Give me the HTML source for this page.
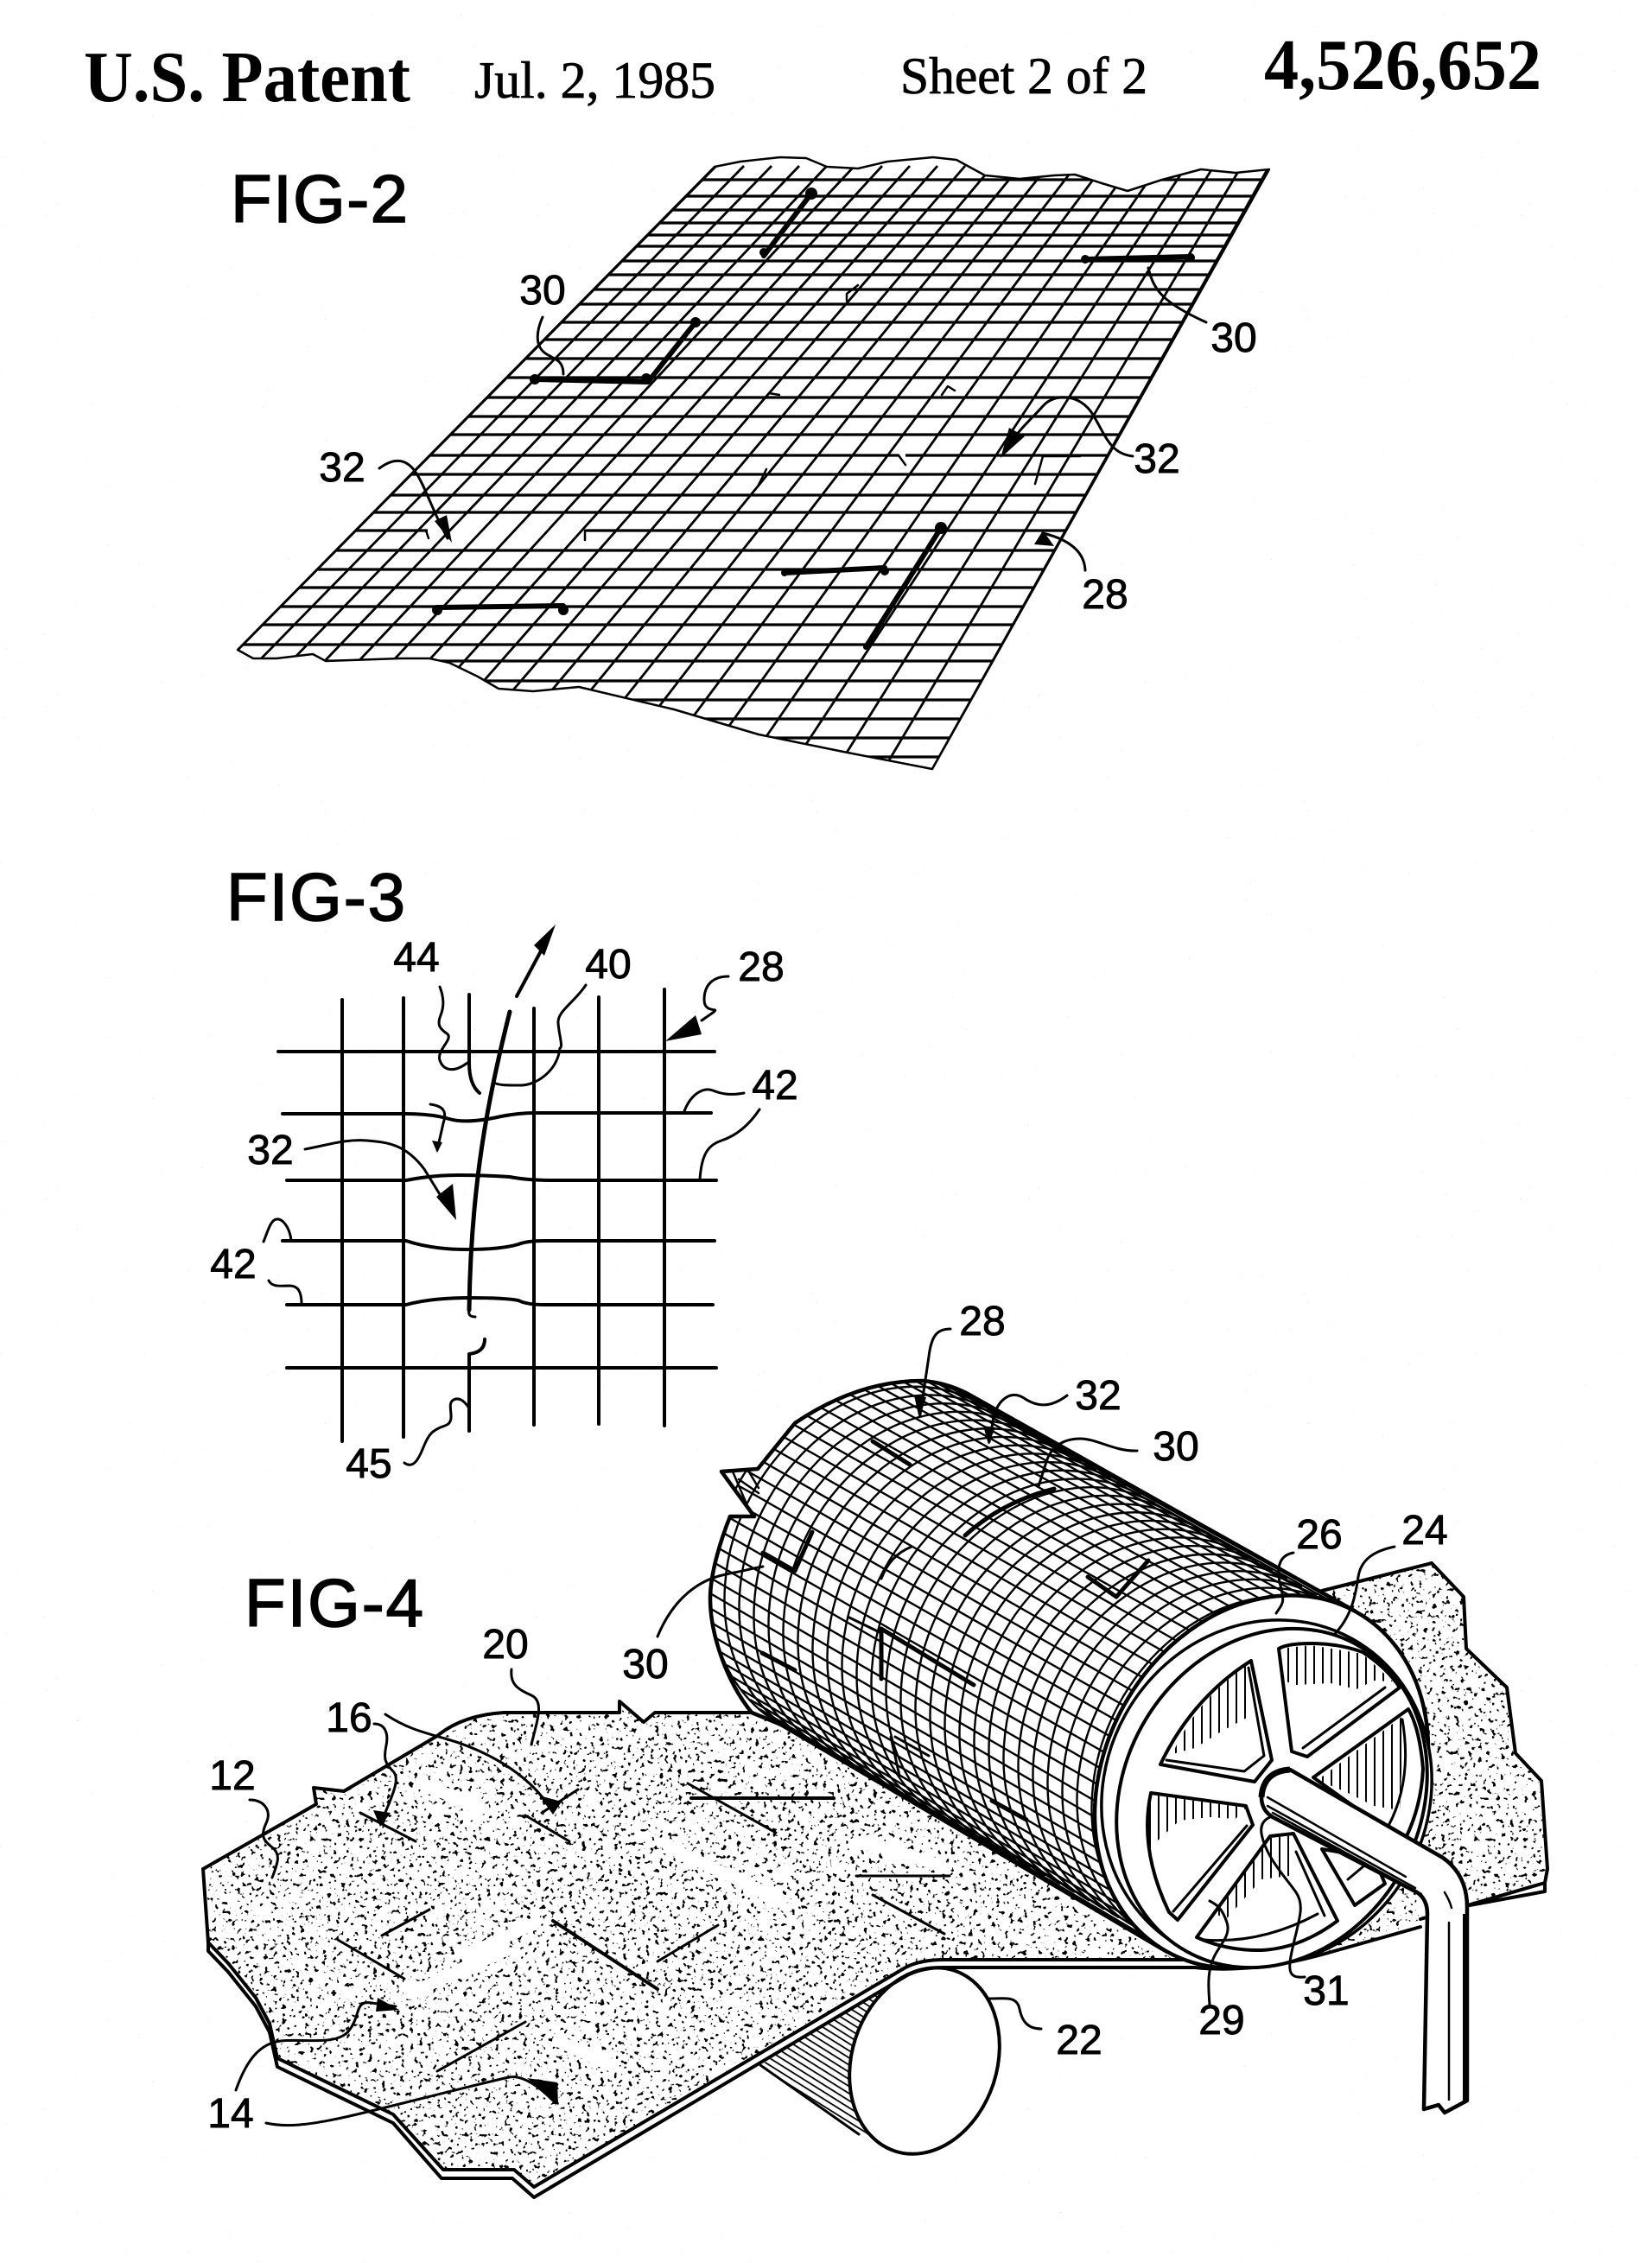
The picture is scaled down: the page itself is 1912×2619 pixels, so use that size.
<!DOCTYPE html>
<html><head><meta charset="utf-8"><title>U.S. Patent 4,526,652 Sheet 2</title>
<style>
html,body{margin:0;padding:0;background:#fff}
svg{display:block}
.n{font:48px "Liberation Sans",sans-serif;text-anchor:middle;fill:#000;stroke:#000;stroke-width:.9}
.f{font:78px "Liberation Sans",sans-serif;fill:#000;stroke:#000;stroke-width:1.6}
.h{font-family:"Liberation Serif",serif;fill:#000}
.l{fill:none;stroke:#000;stroke-width:3;stroke-linecap:round;stroke-linejoin:round}
.t{fill:none;stroke:#000;stroke-width:2.5;stroke-linecap:round;stroke-linejoin:round}
.s{fill:none;stroke:#000;stroke-width:6;stroke-linecap:round;stroke-linejoin:round}
.o{fill:none;stroke:#000;stroke-width:4;stroke-linecap:round;stroke-linejoin:round}
</style></head><body>
<svg xmlns="http://www.w3.org/2000/svg" width="1912" height="2619" viewBox="0 0 1912 2619">
<defs>
<filter id="stip" x="0" y="0" width="1" height="1" color-interpolation-filters="sRGB"><feTurbulence type="fractalNoise" baseFrequency="0.19" numOctaves="2" seed="7"/><feColorMatrix values="0 0 0 0 0 0 0 0 0 0 0 0 0 0 0 0 0 0 18 -11.4"/></filter>
<filter id="bg" x="0" y="0" width="1" height="1" color-interpolation-filters="sRGB"><feTurbulence type="fractalNoise" baseFrequency="0.45" numOctaves="1" seed="3"/><feColorMatrix values="0 0 0 0 .45 0 0 0 0 .45 0 0 0 0 .45 0 0 0 30 -24.5"/></filter>
<pattern id="hv" width="10" height="40" patternUnits="userSpaceOnUse"><rect width="2" height="40" fill="#000"/></pattern>
<pattern id="hd" width="7" height="7" patternUnits="userSpaceOnUse" patternTransform="rotate(32)"><rect width="7" height="1.8" fill="#000"/></pattern>
<clipPath id="g2"><path d="M827 193 857 187 903 182 933 183 957 193 993 195 1027 187 1080 182 1107 185 1140 203 1180 207 1220 203 1244 202 1275 212 1305 221 1345 208 1390 196 1430 200 1469 196 1079 890 976 870 878 850 780 821 670 795 617 800 577 797 553 783 520 767 497 762 463 762 377 765 362 757 320 762 293 762 275 752Z"/></clipPath>
<clipPath id="sheet"><path id="sheetp" d="M235 2163 366 2088 363 2069 398 2073 506 2009Q535 1985 583 1982L717 1982 717 1969 745 1993 758 1982 876 1982 1530 1841 1657 1809 1694 1848 1697 1908 1744 1953 1754 2029 1784 2061 1791 2163 1788 2179 1644 2221Q1560 2262 1517 2259 1450 2275 1383 2269L1093 2268Q1065 2268 1048 2277L618 2531 595 2511 513 2511 455 2447 321 2382 312 2342 296 2312 264 2272 241 2248Z"/></clipPath>
<clipPath id="drum"><path id="drump" d="M1569 1865 1120 1613Q1095 1600 1067 1598C1010 1598 960 1620 920 1647L877 1700 835 1703 873 1755 845 1755C835 1780 822 1820 822 1850 822 1890 840 1945 870 1982L904 1996 1351 2259Z"/></clipPath>
<path id="arc" d="M1116 1614A178 218 29 0 0 822 1826A178 218 29 0 0 904 1996" fill="none" stroke="#000" stroke-width="2.4"/>
</defs>
<rect width="1912" height="2619" fill="#fff"/>
<rect width="1912" height="2619" filter="url(#bg)"/>

<!-- header -->
<text class="h" x="97" y="117" font-size="84" font-weight="bold" textLength="378" lengthAdjust="spacingAndGlyphs">U.S. Patent</text>
<text class="h" x="549" y="113" font-size="60" stroke="#000" stroke-width=".8" textLength="279" lengthAdjust="spacingAndGlyphs">Jul. 2, 1985</text>
<text class="h" x="1042" y="108" font-size="60" stroke="#000" stroke-width=".8" textLength="286" lengthAdjust="spacingAndGlyphs">Sheet 2 of 2</text>
<text class="h" x="1463" y="103" font-size="84" font-weight="bold" textLength="321" lengthAdjust="spacingAndGlyphs">4,526,652</text>

<!-- FIG 2 -->
<text class="f" x="267" y="257" textLength="205">FIG-2</text>
<g clip-path="url(#g2)">
<path fill="none" stroke="#000" stroke-width="3.2" d="M130 208H1480M130 227H1480M130 243H1480M130 258H1480M130 272H1480M130 285H1480M130 302H1480M130 318H1480M130 335H1480M130 352H1480M130 373H1480M130 393H1480M130 415H1480M130 437H1480M130 460H1480M130 482H1480M130 503H1480M130 527H1040M1048 527H1480M130 549H1480M130 573H1480M130 593H1480M130 614H495M677 614H1480M130 637H1480M130 659H1480M130 680H1480M130 702H1480M130 723H1480M130 746H1480M130 765H1480M130 788H1480M130 810H1480M130 832H1480M130 854H1480M130 876H1480"/>
<path fill="none" stroke="#000" stroke-width="2.8" d="M829 192 139 890M861 192 177 890M893 192 216 890M925 192 256 890M957 192 297 890M989 192 338 890M1021 192 381 890M1053 192 425 890M1085 192 470 890M1117 192 515 890M1149 192 562 890M1181 192 609 890M1213 192 658 890M1245 192 707 890M1277 192 757 890M1309 192 808 890M1341 192 861 890M1373 192 914 890M1405 192 968 890M1437 192 1023 890M1469 192 1079 890"/>
</g>
<path class="t" d="M827 193 857 187 903 182 933 183 957 193 993 195 1027 187 1080 182 1107 185 1140 203 1180 207 1220 203 1244 202 1275 212 1305 221 1345 208 1390 196 1430 200 1469 196 1079 890 976 870 878 850 780 821 670 795 617 800 577 797 553 783 520 767 497 762 463 762 377 765 362 757 320 762 293 762 275 752 827 193"/>
<path class="t" d="M980 348V340L993 330M890 455 902 457M1090 457 1097 447 1105 452M1040 527 1048 538M877 563 887 543M493 614 496 623M677 614V625M1207 528H1250M1207 528 1198 560"/>
<path class="s" d="M939 224 884 296M1256 300 1378 297M805 373 750 442 619 439M506 703 652 701M908 663 1024 657M1089 611 1002 749"/>
<g fill="#000"><circle cx="939" cy="224" r="7"/><circle cx="884" cy="292" r="5"/><circle cx="1256" cy="300" r="5"/><circle cx="1378" cy="298" r="5"/><circle cx="805" cy="373" r="6"/><circle cx="748" cy="438" r="6"/><circle cx="619" cy="439" r="6"/><circle cx="506" cy="706" r="6"/><circle cx="652" cy="706" r="6"/><circle cx="908" cy="663" r="4"/><circle cx="1024" cy="661" r="5"/><circle cx="1089" cy="611" r="7"/></g>
<path class="l" d="M628 367C620 385 620 400 630 408S652 415 652 433M1329 310C1335 335 1345 350 1396 373M439 542C455 530 469 530 480 545S500 590 518 623M1311 528C1285 525 1280 505 1265 480S1220 455 1207 470 1175 500 1165 522M1256 660C1255 640 1240 625 1207 617"/>
<path d="M503 603 523 628 517 596ZM1158 530 1168 495 1186 505ZM1197 630 1207 614 1220 632Z" fill="#000"/>
<text class="n" x="628" y="352">30</text><text class="n" x="1428" y="407">30</text><text class="n" x="396" y="557">32</text><text class="n" x="1339" y="547">32</text><text class="n" x="1279" y="704">28</text>

<!-- FIG 3 -->
<text class="f" x="262" y="1065" textLength="207">FIG-3</text>
<path class="o" d="M396 1157V1668M467 1155V1663M618 1167V1649M693 1154V1648M769 1145V1650M543 1151V1230Q543 1255 555 1265M561 1550Q561 1565 543 1567V1656"/>
<path class="o" d="M322 1217H827M327 1289H470Q500 1289 520 1295T580 1292Q600 1288 620 1288H823M332 1366H470Q500 1360 530 1360T590 1362Q610 1366 640 1366H829M327 1436H470Q500 1446 540 1446T600 1440Q610 1436 630 1436H827M332 1510H470Q500 1502 543 1502T600 1505Q610 1510 630 1510H825M332 1583H829"/>
<path d="M590 1171C565 1270 545 1370 543 1516" fill="none" stroke="#000" stroke-width="5" stroke-linecap="round"/>
<path class="l" d="M543 1516Q541 1524 550 1524"/>
<path class="o" d="M598 1153 636 1082"/>
<path d="M643 1070 618 1094 630 1106Z" fill="#000"/>
<path class="l" d="M509 1142C514 1155 514 1165 510 1175S508 1190 517 1196 505 1215 509 1227 525 1242 541 1230M678 1140C665 1160 645 1170 646 1184S652 1212 648 1213C645 1240 620 1256 603 1256S580 1256 574 1254M843 1130C825 1130 815 1140 815 1157S835 1165 825 1172 812 1181 812 1181M861 1265C845 1268 835 1266 825 1262S800 1265 792 1286M879 1284C865 1305 850 1315 835 1320S812 1335 810 1365M353 1330C380 1325 400 1318 425 1320S470 1325 491 1353L520 1400M498 1278C512 1280 518 1285 513 1300L506 1331M305 1437C310 1425 313 1412 320 1411S335 1420 337 1435M311 1482C315 1490 325 1488 335 1488S349 1495 349 1509M468 1693C478 1700 484 1690 490 1675S500 1655 515 1650 515 1625 525 1620 543 1630 543 1630"/>
<path d="M770 1205 805 1175 812 1197ZM505 1385 524 1370 528 1412ZM500 1320 512 1322 506 1334Z" fill="#000"/>
<text class="n" x="482" y="1124">44</text><text class="n" x="704" y="1132">40</text><text class="n" x="881" y="1135">28</text><text class="n" x="897" y="1272">42</text><text class="n" x="313" y="1347">32</text><text class="n" x="270" y="1479">42</text><text class="n" x="427" y="1710">45</text>

<!-- FIG 4 -->
<text class="f" x="283" y="1882" textLength="207">FIG-4</text>

<!-- roller -->
<path d="M880 2390 1030 2296 1080 2385 1010 2480 994 2470Z" fill="url(#hd)" stroke="none"/>
<path class="l" d="M880 2390 994 2470"/>
<ellipse cx="1070" cy="2385" rx="84" ry="110" transform="rotate(18 1070 2385)" fill="#fff" stroke="#000" stroke-width="4"/>

<!-- sheet -->
<use href="#sheetp" fill="#fff"/>
<g clip-path="url(#sheet)"><rect x="200" y="1780" width="1620" height="780" filter="url(#stip)"/>
<path fill="none" stroke="#fff" stroke-width="14" stroke-linecap="round" d="M540 2263 620 2225M487 2064 557 2093M774 2138 902 2198M646 2362 710 2392M474 2307 583 2258M1000 2130 1090 2160"/>
</g>
<path class="o" d="M235 2163 366 2088 363 2069 398 2073 506 2009Q535 1985 583 1982L717 1982 717 1969 745 1993 758 1982 876 1982M1530 1841 1657 1809 1694 1848 1697 1908 1744 1953 1754 2029 1784 2061 1791 2163 1788 2179 1644 2221M235 2163 241 2248 264 2272 296 2312 312 2342 321 2382 455 2447 513 2511 595 2511 618 2531 1048 2277Q1065 2268 1093 2268H1383Q1450 2275 1517 2259"/>
<path class="o" d="M241 2248V2258L264 2282 296 2322 312 2352 321 2392 455 2457 511 2521 593 2521 618 2543 1050 2286Q1068 2277 1093 2277H1383Q1450 2284 1530 2262L1644 2230M1788 2179V2189L1701 2205"/>
<path class="l" d="M608 2101 659 2131M669 2071 627 2098M796 2064 898 2121M417 2098 481 2131M497 2210 442 2240M391 2245 468 2290M831 2228 761 2270M608 2340 506 2397M991 2171 1099 2171M1010 2193 1093 2238"/>
<path class="s" d="M640 2223 761 2302" style="stroke-width:4"/>
<path class="s" d="M800 2081 965 2081" style="stroke-width:4"/>

<!-- drum -->
<use href="#drump" fill="#fff"/>
<g clip-path="url(#drum)">
<path fill="none" stroke="#000" stroke-width="2.4" d="M1569 1865 1116 1614M1555 1858 1102 1607M1540 1853 1087 1602M1524 1849 1072 1598M1508 1847 1056 1596M1492 1846 1040 1596M1475 1847 1024 1597M1458 1850 1007 1599M1441 1855 991 1603M1425 1860 975 1609M1408 1868 959 1616M1392 1877 943 1625M1377 1887 928 1635M1362 1899 914 1646M1348 1912 900 1659M1334 1926 887 1672M1322 1941 875 1687M1311 1957 864 1702M1301 1974 854 1719M1292 1991 846 1736M1284 2009 838 1753M1278 2028 832 1771M1273 2046 827 1789M1270 2065 824 1807M1267 2084 822 1826M1267 2103 822 1844M1268 2121 823 1862M1270 2139 825 1879M1274 2156 829 1896M1279 2173 834 1912M1286 2188 841 1927M1294 2203 848 1941M1303 2217 857 1955M1313 2229 868 1967M1325 2241 879 1978M1337 2250 891 1987M1351 2259 904 1996"/>
<use href="#arc"/><use href="#arc" x="17" y="9.7"/><use href="#arc" x="34" y="19.4"/><use href="#arc" x="51" y="29.1"/><use href="#arc" x="68" y="38.8"/><use href="#arc" x="85" y="48.5"/><use href="#arc" x="102" y="58.2"/><use href="#arc" x="119" y="67.9"/><use href="#arc" x="136" y="77.6"/><use href="#arc" x="153" y="87.3"/><use href="#arc" x="170" y="97"/><use href="#arc" x="187" y="106.7"/><use href="#arc" x="204" y="116.4"/><use href="#arc" x="221" y="126.1"/><use href="#arc" x="238" y="135.8"/><use href="#arc" x="255" y="145.5"/><use href="#arc" x="272" y="155.2"/><use href="#arc" x="289" y="164.9"/><use href="#arc" x="306" y="174.6"/><use href="#arc" x="323" y="184.3"/><use href="#arc" x="340" y="194"/><use href="#arc" x="357" y="203.7"/><use href="#arc" x="374" y="213.4"/><use href="#arc" x="391" y="223.1"/><use href="#arc" x="408" y="232.8"/><use href="#arc" x="425" y="242.5"/><use href="#arc" x="442" y="252.2"/>
</g>
<path class="t" d="M855 1712 878 1728M848 1703 866 1745M866 1702 878 1722"/>
<path d="M1569 1865 1120 1613Q1095 1600 1067 1598C1010 1598 960 1620 920 1647L877 1700 835 1703 873 1755 845 1755C835 1780 822 1820 822 1850 822 1890 840 1945 870 1982L904 1996 1351 2259" fill="none" stroke="#000" stroke-width="4.5" stroke-linejoin="round"/>
<path class="s" d="M1010 1668 1053 1695M1117 1777Q1160 1738 1220 1723M1259 1825 1292 1848 1329 1806M1020 1885V1943M1020 1885 1127 1950M882 1913 920 1933M883 1797 920 1818 940 1773M1148 2084 1188 2106" style="stroke-width:5"/>
<path class="l" d="M983 1872 1020 1890M1031 2010 1041 2055M1036 2010 1075 2032M1020 1827Q1030 1800 1055 1790"/>

<!-- wheel -->
<ellipse cx="1460" cy="2062" rx="182" ry="225" transform="rotate(29 1460 2062)" fill="#fff" stroke="#000" stroke-width="4.5"/>
<ellipse cx="1466" cy="2075" rx="187" ry="204" transform="rotate(29 1466 2075)" fill="#fff" stroke="#000" stroke-width="3.5"/>
<ellipse cx="1472" cy="2081" rx="172" ry="203" transform="rotate(29 1472 2081)" fill="#fff" stroke="#000" stroke-width="4"/>
<g stroke="#000" stroke-width="4" stroke-linejoin="round" fill="#fff">
<path d="M1480 1908Q1490 1902 1517 1902 1550 1902 1577 1912 1605 1930 1620 1953L1513 2033 1495 2027Z"/>
<path d="M1448 1922 1472 2037 1452 2062 1343 2042Q1380 1965 1448 1922Z"/>
<path d="M1332 2075 1442 2090 1450 2112 1363 2222 1353 2213Q1318 2140 1332 2075Z"/>
<path d="M1470 2125 1497 2122 1548 2223Q1505 2255 1460 2257 1420 2258 1385 2242Z"/>
<path d="M1530 2140 1568 2205 1603 2180 1590 2150Z"/>
<path d="M1520 2057 1630 1978Q1643 2000 1647 2047 1645 2090 1627 2127L1580 2100Z"/>
</g>
<g fill="url(#hv)"><path d="M1480 1908 1517 1904 1577 1914 1612 1946 1590 1945 1570 1955 1540 1948 1500 1950 1485 1945Z"/>
<path d="M1448 1924 1445 1987 1415 2003 1383 2023 1357 2030Q1385 1965 1448 1924Z"/>
<path d="M1332 2077 1442 2092 1430 2105 1400 2103 1365 2107 1340 2130 1330 2140Q1328 2100 1332 2077Z"/>
<path d="M1470 2127 1497 2124 1500 2170 1460 2175 1420 2220 1405 2215Z"/>
<path d="M1525 2060 1625 1985 1620 2095 1590 2090 1560 2075Z"/></g>
<path class="l" d="M1603 1953 1508 2023M1445 1930 1463 2032 1440 2050 1350 2037M1443 2113 1358 2212M1500 2143 1533 2217M1623 1990Q1635 2060 1607 2113M1394 2245Q1460 2250 1525 2215M1560 2175 1578 2160"/>

<!-- pipe -->
<path d="M1493 2048Q1462 2050 1460 2080 1460 2095 1473 2103L1640 2190Q1652 2198 1652 2215L1648 2441 1665 2436 1672 2445 1698 2431V2207Q1698 2170 1670 2150Z" fill="#fff" stroke="#000" stroke-width="4.5" stroke-linejoin="round"/>
<path d="M1493 2048Q1462 2050 1460 2080" fill="none" stroke="#000" stroke-width="7"/>
<path class="t" d="M1467 2080 1627 2172M1467 2090 1638 2185M1473 2098 1645 2192M1677 2225V2430M1672 2190Q1678 2200 1680 2208"/>
<path d="M1693 2215H1700V2431H1693Z" fill="#000"/>

<!-- fig4 leaders -->
<path class="l" d="M1100 1538C1085 1538 1078 1545 1075 1570L1065 1637M1235 1615C1215 1630 1200 1628 1185 1618S1155 1620 1150 1640L1145 1669M1316 1679C1290 1680 1270 1665 1250 1665S1215 1675 1210 1695L1202 1720M1497 1797C1480 1800 1477 1815 1482 1835S1485 1855 1477 1867M1614 1790C1590 1795 1575 1805 1572 1825S1565 1870 1544 1892M1205 2348C1190 2348 1183 2340 1180 2325S1165 2313 1145 2313M1400 2320C1398 2295 1398 2280 1405 2265S1425 2240 1420 2225 1410 2205 1400 2200M1510 2288C1490 2290 1490 2280 1497 2250S1510 2205 1500 2190 1465 2150 1460 2122Q1458 2108 1470 2103M761 1894C775 1860 800 1830 840 1822S870 1815 883 1813M592 1932C590 1950 600 1955 615 1962S622 1990 615 2019M446 1984C470 2000 490 2005 515 2012S600 2040 634 2088M433 1995C445 1995 450 2005 447 2020S445 2040 455 2050 450 2085 442 2108M289 2083C305 2083 315 2095 308 2110S305 2130 315 2138 322 2155 315 2173M273 2419C285 2385 300 2365 325 2362S390 2368 404 2350 410 2315 430 2318L458 2322M308 2457C330 2462 355 2460 400 2450S540 2415 589 2404Q610 2400 643 2434"/>
<path d="M1058 1615 1072 1617 1064 1642ZM1138 1650 1152 1652 1144 1672ZM624 2078 650 2085 640 2100ZM432 2095 452 2098 440 2114ZM437 2312 462 2326 435 2328ZM610 2405 645 2410 646 2436Z" fill="#000"/>
<text class="n" x="1137" y="1545">28</text><text class="n" x="1271" y="1631">32</text><text class="n" x="1361" y="1690">30</text><text class="n" x="1527" y="1792">26</text><text class="n" x="1649" y="1787">24</text><text class="n" x="1249" y="2377">22</text><text class="n" x="1414" y="2354">29</text><text class="n" x="1535" y="2320">31</text><text class="n" x="747" y="1942">30</text><text class="n" x="585" y="1919">20</text><text class="n" x="404" y="2004">16</text><text class="n" x="269" y="2071">12</text><text class="n" x="267" y="2462">14</text>
</svg>
</body></html>
